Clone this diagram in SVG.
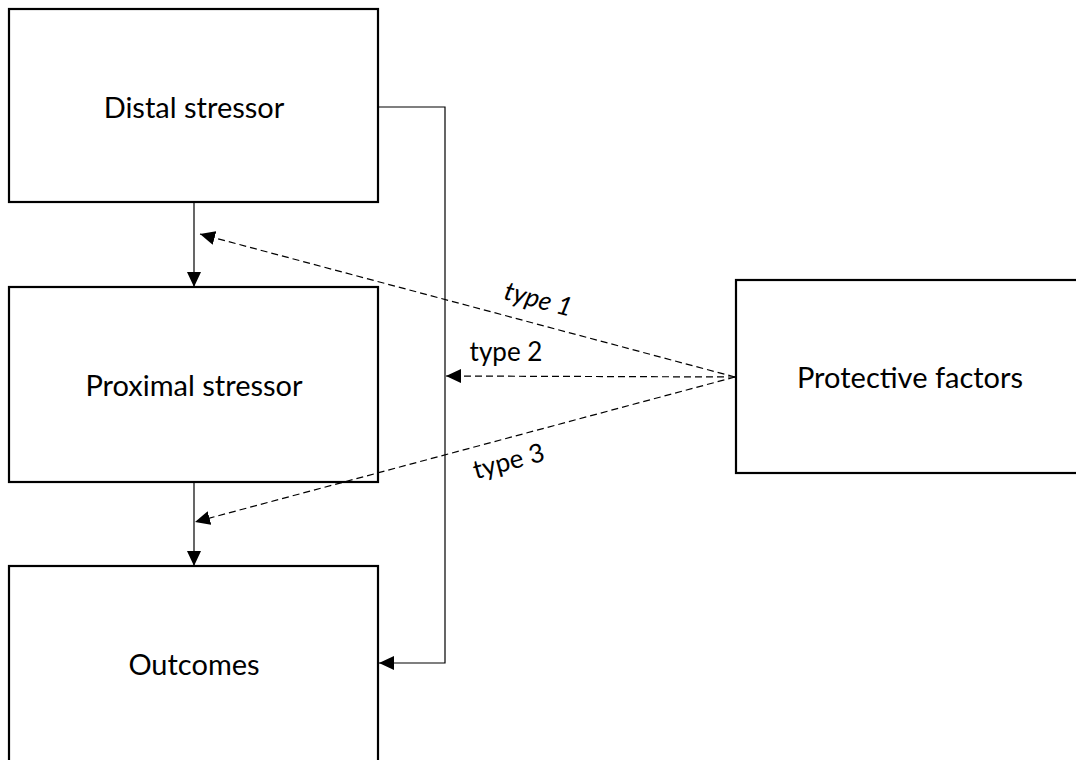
<svg xmlns="http://www.w3.org/2000/svg" width="1076" height="760" viewBox="0 0 1076 760">
  <style>
    .box { fill: #ffffff; stroke: #000000; stroke-width: 2.2; }
    .lbl { font-family: Lato, "Liberation Sans", sans-serif; font-size: 29px; fill: #000000; text-anchor: middle; }
    .edge { font-family: Lato, "Liberation Sans", sans-serif; font-size: 26px; fill: #000000; text-anchor: middle; }
    .solid { fill: none; stroke: #000000; stroke-width: 1.2; }
    .dash { fill: none; stroke: #000000; stroke-width: 1.2; stroke-dasharray: 7 4; }
  </style>
  <defs>
    <marker id="arrow" markerUnits="userSpaceOnUse" markerWidth="16" markerHeight="14" refX="15" refY="7" orient="auto">
      <path d="M0,0 L15,7 L0,14 z" fill="#000000"/>
    </marker>
  </defs>
  <rect width="1076" height="760" fill="#ffffff"/>
  <g id="distal">
    <rect class="box" x="9" y="9" width="369" height="193"/>
    <text class="lbl" x="194" y="118">Distal stressor</text>
  </g>
  <g id="proximal">
    <rect class="box" x="9" y="287" width="369" height="195"/>
    <text class="lbl" x="194" y="396">Proximal stressor</text>
  </g>
  <g id="outcomes">
    <rect class="box" x="9" y="566" width="369" height="200"/>
    <text class="lbl" x="194" y="675">Outcomes</text>
  </g>
  <g id="protective">
    <rect class="box" x="736" y="280" width="345" height="193"/>
    <text class="lbl" x="910" y="388">Protective factors</text>
  </g>
  <g id="connectors">
    <line class="solid" x1="194" y1="202" x2="194" y2="287" marker-end="url(#arrow)"/>
    <line class="solid" x1="194" y1="482" x2="194" y2="566" marker-end="url(#arrow)"/>
    <polyline class="solid" points="378,107 445,107 445,663 379,663" marker-end="url(#arrow)"/>
    <line class="dash" x1="735" y1="377" x2="200" y2="234" marker-end="url(#arrow)"/>
    <line class="dash" x1="735" y1="377" x2="446" y2="376" marker-end="url(#arrow)"/>
    <line class="dash" x1="735" y1="377" x2="195" y2="522" marker-end="url(#arrow)"/>
    <g transform="translate(538,301) rotate(15)">
      <text class="edge" x="0" y="7" font-style="italic">type 1</text>
    </g>
    <text class="edge" x="506" y="361">type 2</text>
    <g transform="translate(509,463) rotate(-15)">
      <text class="edge" x="0" y="7">type 3</text>
    </g>
  </g>
</svg>
